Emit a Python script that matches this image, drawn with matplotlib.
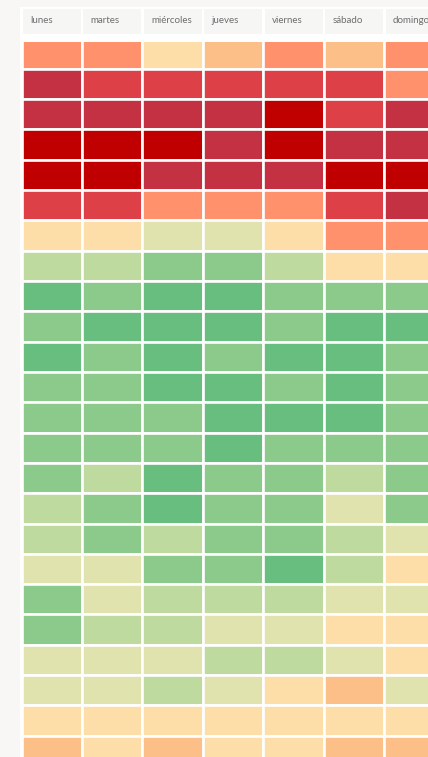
import numpy as np
import matplotlib
matplotlib.use("Agg")
import matplotlib.pyplot as plt
from matplotlib.colors import ListedColormap, BoundaryNorm
from matplotlib.patches import Rectangle

days = ["lunes", "martes", "miércoles", "jueves", "viernes", "sábado", "domingo"]
hours = list(range(24))

# level 1 (darkest red) ... level 10 (darkest green), one row per hour
h00 = [4, 4, 6, 5, 4, 5, 4]
h01 = [2, 3, 3, 3, 3, 3, 4]
h02 = [2, 2, 2, 2, 1, 3, 2]
h03 = [1, 1, 1, 2, 1, 2, 2]
h04 = [1, 1, 2, 2, 2, 1, 1]
h05 = [3, 3, 4, 4, 4, 3, 2]
h06 = [6, 6, 7, 7, 6, 4, 4]
h07 = [8, 8, 9, 9, 8, 6, 6]
h08 = [10, 9, 10, 10, 9, 9, 9]
h09 = [9, 10, 10, 10, 9, 10, 10]
h10 = [10, 9, 10, 9, 10, 10, 9]
h11 = [9, 9, 10, 10, 9, 10, 9]
h12 = [9, 9, 9, 10, 10, 10, 9]
h13 = [9, 9, 9, 10, 9, 9, 9]
h14 = [9, 8, 10, 9, 9, 8, 9]
h15 = [8, 9, 10, 9, 9, 7, 9]
h16 = [8, 9, 8, 9, 9, 8, 7]
h17 = [7, 7, 9, 9, 10, 8, 6]
h18 = [9, 7, 8, 8, 8, 7, 7]
h19 = [9, 8, 8, 7, 7, 6, 6]
h20 = [7, 7, 7, 8, 8, 7, 6]
h21 = [7, 7, 8, 7, 6, 5, 7]
h22 = [6, 6, 6, 6, 6, 6, 6]
h23 = [5, 6, 5, 6, 6, 5, 5]

level_colors = ["#C00000", "#C43142", "#DD4046", "#FF926C", "#FDBF88",
                "#FDDEA8", "#E0E3AD", "#BEDA9E", "#8BCA8A", "#68BE7E"]

values = np.array([h00, h01, h02, h03, h04, h05, h06, h07, h08, h09, h10, h11,
                   h12, h13, h14, h15, h16, h17, h18, h19, h20, h21, h22, h23])

W, H = 428, 757
fig = plt.figure(figsize=(W / 100, H / 100), dpi=100)
fig.patch.set_facecolor("#F8F7F6")
fig.patches.append(Rectangle((20 / W, 0), 1 - 20 / W, 1 - 6.7 / H,
                             transform=fig.transFigure, facecolor="white",
                             edgecolor="none", zorder=-10))

cmap = ListedColormap(level_colors)
norm = BoundaryNorm(np.arange(0.5, 11.5, 1), cmap.N)

xlim = (-0.025, 6.72)

# main heatmap
ax = fig.add_axes([20 / W, 0, 1 - 20 / W, (H - 42) / H])
ax.set_facecolor("white")
ax.pcolormesh(np.arange(len(days) + 1), np.arange(len(hours) + 1), values,
              cmap=cmap, norm=norm, edgecolors="white", linewidth=1.9,
              antialiased=True)
ax.set_xlim(*xlim)
ax.set_ylim(23.7, 0.12)
ax.axis("off")

# header
hx = fig.add_axes([20 / W, (H - 34) / H, 1 - 20 / W, 25 / H])
hx.set_facecolor("white")
gap = 2.5 / 60.5
hx.bar(np.arange(len(days)) + 0.5, 1, width=1 - gap, color="#F6F6F5")
for i, d in enumerate(days):
    hx.text(i + 0.14, 0.45, d, ha="left", va="baseline", fontsize=7,
            family=["Lato", "DejaVu Sans"], color="#6E6E6E")
hx.set_xlim(*xlim)
hx.set_ylim(0, 1)
hx.axis("off")

fig.savefig("out.png", dpi=100, facecolor=fig.get_facecolor())
